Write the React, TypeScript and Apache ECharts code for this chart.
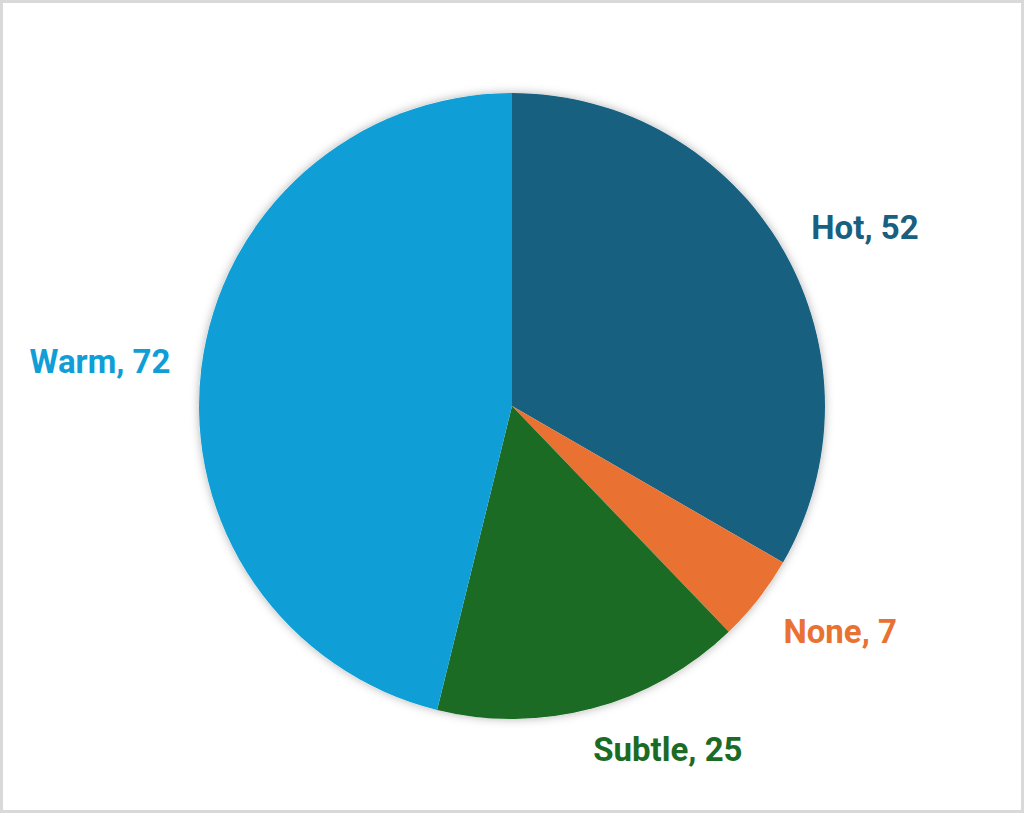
import React, { useEffect, useRef } from "react";
import * as echarts from "echarts";

const categories = ["Hot", "None", "Subtle", "Warm"];
const values = [52, 7, 25, 72];
const colors = ["#17607f", "#e97132", "#1b6b24", "#0f9ed5"];
// fine offsets of the data labels (Excel "outside end" placement)
const labelDx = [-1, -2, -12, 2];
const labelDy = [-8, 15, 14, -3];

export default function App() {
  const ref = useRef<HTMLDivElement>(null);
  useEffect(() => {
    document.body.style.margin = "0";
    const chart = echarts.init(ref.current!, null, { renderer: "svg" });
    const data = categories.map((name, i) => ({
      name,
      value: values[i],
      itemStyle: { color: colors[i] },
      label: { color: colors[i] },
    }));
    chart.setOption({
      animation: false,
      backgroundColor: "#ffffff",
      series: [
        {
          type: "pie",
          silent: true,
          center: [512, 406],
          radius: 313,
          z: 1,
          label: { show: false },
          labelLine: { show: false },
          itemStyle: {
            color: "#ffffff",
            shadowBlur: 10,
            shadowColor: "rgba(0,0,0,0.3)",
            shadowOffsetX: 0,
            shadowOffsetY: 0,
          },
          data: [{ name: "bg", value: 1 }],
        },
        {
          type: "pie",
          center: [512, 406],
          radius: 313,
          startAngle: 90,
          clockwise: true,
          z: 2,
          itemStyle: { borderWidth: 0 },
          label: {
            show: true,
            position: "outside",
            formatter: "{b}, {c}",
            fontFamily: "Roboto",
            fontWeight: "bold",
            fontSize: 33,
          },
          labelLine: { show: false, length: 28, length2: 0 },
          labelLayout: (p: any) => ({
            dx: labelDx[p.dataIndex] ?? 0,
            dy: labelDy[p.dataIndex] ?? 0,
          }),
          emphasis: { disabled: true },
          data,
        },
      ],
    });
    return () => chart.dispose();
  }, []);
  return (
    <div style={{ position: "relative", width: 1024, height: 813 }}>
      <div ref={ref} style={{ position: "absolute", left: 0, top: 0, width: 1024, height: 813 }} />
      <div
        style={{
          position: "absolute",
          left: 0,
          top: 0,
          width: 1024,
          height: 813,
          boxSizing: "border-box",
          border: "3px solid #d9d9d9",
          pointerEvents: "none",
        }}
      />
    </div>
  );
}
